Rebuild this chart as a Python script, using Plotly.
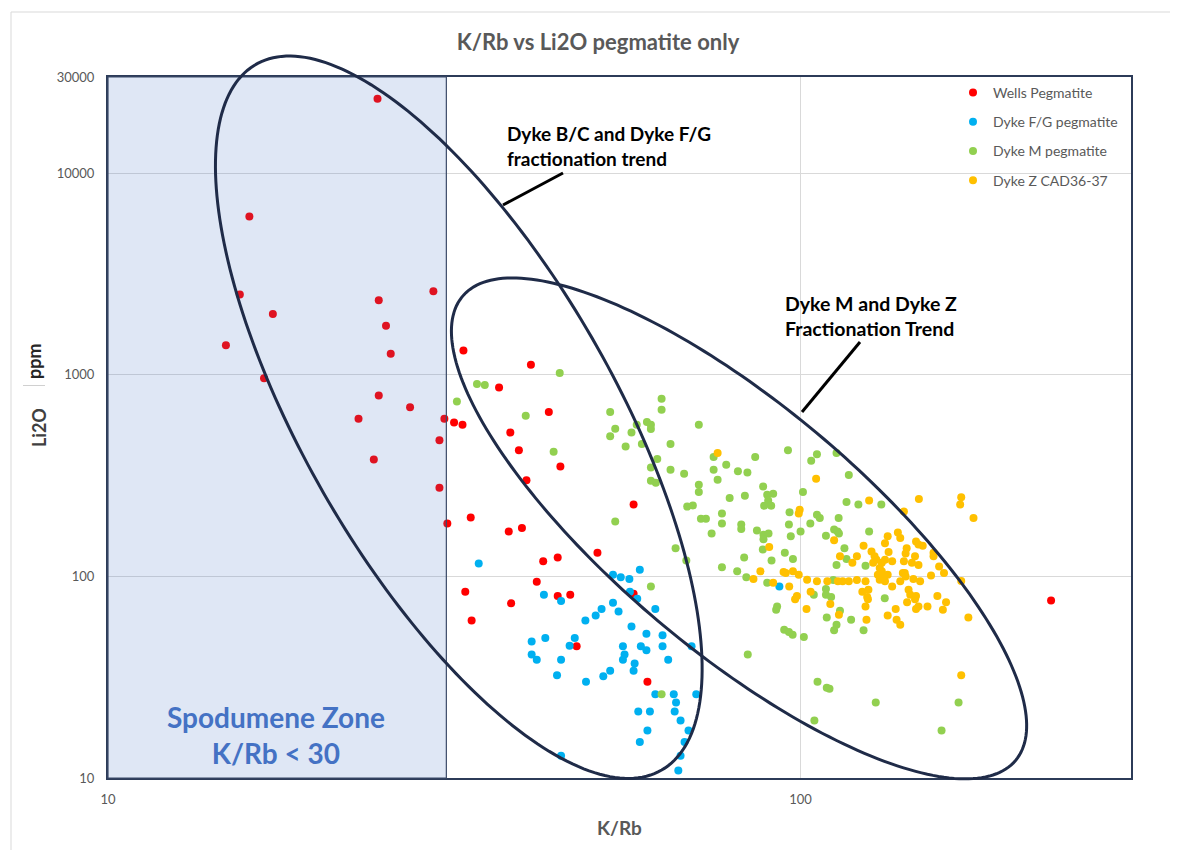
import numpy as np
import plotly.graph_objects as go

# ---------------- data (K/Rb vs Li2O ppm) ----------------
wells_krb = [24.5, 16.0, 15.5, 17.3, 14.8, 16.8, 24.6, 29.5, 25.2, 25.6, 24.6, 27.3, 23.0, 30.6, 31.6,
             32.5, 30.1, 24.2, 30.1, 30.9, 33.4, 37.9, 39.6, 43.3, 38.1, 39.2, 45.0, 40.2, 36.7, 32.6,
             40.8, 50.9, 42.5, 44.6, 41.6, 32.8, 38.2, 33.5, 44.6, 46.5, 47.5, 57.4, 60.1, 57.4, 230]
wells_li2o = [23400, 6100, 2500, 2000, 1400, 960, 2340, 2600, 1750, 1270, 790, 690, 605, 605, 580,
              565, 473, 380, 275, 183, 196, 167, 174, 654, 518, 422, 351, 300, 866, 1320,
              1120, 131, 119, 124, 94, 84, 73.5, 60.5, 80, 81, 45, 82, 30, 227, 76]

fg_krb = [34.3, 42.6, 45.1, 48.9, 40.9, 42.8, 47.2, 46.4, 40.9, 41.6, 45.1, 44.5, 49.0, 45.1, 58.6,
          53.6, 55.0, 56.6, 56.7, 58.1, 53.6, 54.6, 51.6, 50.6, 61.7, 57.0, 59.9, 63.2, 55.4, 58.8,
          59.9, 63.2, 55.7, 55.4, 57.6, 57.4, 64.4, 69.6, 53.1, 51.9, 61.7, 65.6, 70.7, 66.1, 58.3,
          60.6, 65.8, 67.1, 60.1, 68.9, 58.6, 68.0, 67.1, 66.6, 93.2]
fg_li2o = [116, 81, 75.5, 60.5, 47.5, 49.5, 49.5, 45.3, 41, 38.6, 38.6, 32.3, 30, 12.9, 108,
           102, 99, 97, 84, 77.5, 74, 67, 69, 64, 69, 56.5, 52, 51, 45, 45,
           43, 45, 41, 38.6, 37, 34, 38.6, 45, 34, 32, 26, 26, 26, 23.7, 21.4,
           21.4, 21.4, 19.3, 17.2, 17.2, 15.1, 15.1, 12.9, 10.9, 89]

m_krb = [34.1, 35.0, 31.9, 44.9, 40.1, 44.0, 63.0, 63.0, 53.1, 54.0, 53.1, 57.0, 58.0, 60.0, 60.8,
         60.8, 55.9, 59.0, 64.9, 71.3, 62.1, 60.8, 64.9, 67.9, 60.8, 61.8, 71.3, 71.3, 68.6, 69.9,
         74.9, 78.1, 74.9, 75.9, 81.2, 83.8, 86.0, 88.3, 79.0, 83.1, 89.5, 91.3, 89.8, 88.6, 90.7,
         95.9, 60.8, 54.0, 63.0, 66.0, 68.4, 71.8, 73.0, 77.0, 77.0, 74.4, 82.1, 82.1, 86.5, 88.4,
         89.9, 88.4, 96.2, 88.2, 82.9, 90.8, 94.9, 77.0, 81.0, 89.5, 83.5, 92.2, 92.5, 94.7, 96.2,
         97.4, 105.6, 103.6, 112.7, 117.4, 100.8, 116.5, 121.2, 130.8, 105.6, 106.6, 113.5, 103.3, 100.0, 108.8,
         111.8, 113.1, 113.6, 125.6, 115.7, 116.5, 112.7, 97.5, 124.1, 111.5, 108.8, 108.8, 110.7, 104.5, 132.3,
         114.0, 109.1, 118.3, 112.7, 111.8, 123.3, 101.1, 83.9, 105.8, 109.1, 110.1, 128.4, 104.7, 159.8, 169.1,
         96.8, 96.4]
m_li2o = [900, 890, 738, 1020, 627, 415, 760, 670, 654, 540, 495, 518, 565, 583, 565,
          538, 441, 454, 454, 565, 382, 347, 338, 323, 298, 291, 285, 262, 222, 225,
          391, 358, 338, 302, 332, 328, 391, 279, 245, 251, 254, 257, 238, 224, 224,
          422, 89, 187, 26, 138, 120, 193, 193, 205, 183, 163, 181, 172, 169, 161,
          163, 153, 181, 136, 124, 120, 131, 111, 106, 93, 99, 68.4, 71, 54.4, 53,
          51.4, 403, 375, 409, 318, 262, 234, 227, 227, 202, 195, 195, 183, 167, 159,
          171, 167, 163, 167, 138, 122, 114, 122, 113, 96, 86.6, 81.2, 79, 81, 78,
          67.6, 62.6, 61, 57.6, 54, 54, 50, 41, 30, 28, 27.7, 23.7, 19.3, 17.2, 23.7,
          158, 208]

z_krb = [75.9, 105.3, 125.6, 148.2, 170.6, 170.0, 141.0, 177.7, 99.4, 99.7, 133.6, 132.4, 138.2, 139.3, 111.8,
         123.3, 126.6, 120.6, 114.0, 118.8, 128.7, 131.0, 132.4, 135.6, 134.0, 142.3, 141.8, 146.8, 148.0, 150.1,
         146.3, 144.8, 148.0, 141.0, 155.6, 155.6, 158.5, 161.1, 154.3, 170.6, 97.5, 99.4, 102.2, 105.6, 103.4,
         109.3, 113.2, 115.0, 117.4, 120.6, 124.1, 125.3, 122.8, 124.8, 125.1, 124.1, 131.0, 131.9, 130.1, 133.6,
         132.4, 135.6, 140.5, 141.4, 139.3, 141.8, 145.5, 148.8, 143.2, 144.0, 146.8, 146.3, 142.5, 148.0, 157.6,
         162.2, 160.5, 152.5, 146.8, 137.2, 133.6, 137.6, 139.3, 124.5, 113.6, 110.4, 102.0, 174.7, 127.9, 130.1,
         129.3, 127.3, 170.6, 90.1, 87.5, 85.5, 91.3, 95.2, 96.3, 94.5, 98.8, 98.2]
z_li2o = [409, 305, 238, 242, 247, 227, 210, 195, 205, 214, 158, 146, 165, 155, 151,
          142, 133, 126, 126, 117, 121, 117, 121, 119, 132, 138, 130, 149, 144, 142,
          126, 117, 114, 119, 131, 126, 112, 104, 101, 95, 106, 102, 96.3, 94.5, 84,
          94.5, 94.5, 94.5, 94.5, 96, 94.5, 85.8, 84, 79, 77, 71, 106, 100, 96.3, 102,
          94.5, 89, 104, 104, 94.5, 100, 97, 94.5, 85.8, 81.2, 80, 77, 74.5, 71, 80,
          74.5, 68.4, 71, 69, 69, 64, 61, 57.6, 61, 64.6, 73, 69, 62.6, 126, 110,
          102, 117, 32.3, 140, 106, 97, 93, 104, 89, 105, 80, 77]

series_names = ["Wells Pegmatite", "Dyke F/G pegmatite", "Dyke M pegmatite", "Dyke Z CAD36-37"]
series_colors = ["#ff0000", "#00b0f0", "#92d050", "#ffc000"]

x_tickvals = [10, 100]
y_tickvals = [10, 100, 1000, 10000, 30000]
X_MIN, X_MAX = 10, 300
Y_MIN, Y_MAX = 10, 30000
SPOD_EDGE = 30.8  # drawn edge of the "K/Rb < 30" zone

# ---------------- layout geometry ----------------
OFF = 8                      # page body margin of the html page
W, H = 1178 - OFF, 850 - OFF
ML, MR, MT, MB = 108 - OFF, 47, 77 - OFF, 72
PW, PH = W - ML - MR, H - MT - MB


def px2x(px):
    return (px - OFF - ML) / PW


def py2y(py):
    return (OFF + H - MB - py) / PH


def xpaper(v):
    return (np.log10(v) - np.log10(X_MIN)) / (np.log10(X_MAX) - np.log10(X_MIN))


def ypaper(v):
    return (np.log10(v) - np.log10(Y_MIN)) / (np.log10(Y_MAX) - np.log10(Y_MIN))


def ellipse_path(cx_val, cy_val, a_px, b_px, ang_deg, n=240):
    t = np.linspace(0, 2 * np.pi, n)
    th = np.radians(ang_deg)
    dx = a_px * np.cos(th) * np.cos(t) - b_px * np.sin(th) * np.sin(t)
    dy = a_px * np.sin(th) * np.cos(t) + b_px * np.cos(th) * np.sin(t)
    xs = xpaper(cx_val) + dx / PW
    ys = ypaper(cy_val) - dy / PH
    pts = [f"{x:.5f},{y:.5f}" for x, y in zip(xs, ys)]
    return "M " + " L ".join(pts) + " Z"


fig = go.Figure()
for name, col, xs, ys in zip(series_names, series_colors,
                             [wells_krb, fg_krb, m_krb, z_krb],
                             [wells_li2o, fg_li2o, m_li2o, z_li2o]):
    fig.add_trace(go.Scatter(x=xs, y=ys, mode="markers", name=name, legendgroup=name,
                             marker=dict(color=col, size=8, line=dict(width=0))))

ELL_COL = "#1f2b48"
shapes = [
    # outer chart border (light grey)
    dict(type="rect", xref="paper", yref="paper", x0=px2x(11), x1=px2x(1195), y0=py2y(12), y1=py2y(870),
         line=dict(color="#d9d9d9", width=1), fillcolor="rgba(0,0,0,0)", layer="below"),
    # spodumene zone
    dict(type="rect", xref="paper", yref="paper", x0=0, x1=xpaper(SPOD_EDGE), y0=0, y1=1,
         line=dict(color="#3b4a68", width=1.2), fillcolor="rgba(68,114,196,0.17)", layer="above"),
    # fractionation ellipses
    dict(type="path", xref="paper", yref="paper", path=ellipse_path(32.1, 616, 407, 155, 60.1),
         line=dict(color=ELL_COL, width=3), layer="above"),
    dict(type="path", xref="paper", yref="paper", path=ellipse_path(81.5, 173, 361, 123, 40.0),
         line=dict(color=ELL_COL, width=3), layer="above"),
    # callout leaders
    dict(type="line", xref="paper", yref="paper", x0=px2x(503), y0=py2y(205), x1=px2x(563), y1=py2y(173),
         line=dict(color="black", width=3), layer="above"),
    dict(type="line", xref="paper", yref="paper", x0=px2x(802), y0=py2y(412), x1=px2x(860), y1=py2y(342),
         line=dict(color="black", width=3), layer="above"),
    # small rule under "ppm"
    dict(type="line", xref="paper", yref="paper", x0=px2x(23), y0=py2y(385.5), x1=px2x(45), y1=py2y(385.5),
         line=dict(color="#d0d0d0", width=1), layer="above"),
]

ann_common = dict(xref="paper", yref="paper", showarrow=False)
annotations = [
    dict(text="<b>Dyke B/C and Dyke F/G<br>fractionation trend</b>", x=px2x(505), y=py2y(146),
         xanchor="left", yanchor="middle", align="left", font=dict(size=19, color="black"), **ann_common),
    dict(text="<b>Dyke M and Dyke Z<br>Fractionation Trend</b>", x=px2x(783), y=py2y(316),
         xanchor="left", yanchor="middle", align="left", font=dict(size=19.5, color="black"), **ann_common),
    dict(text="<b>Spodumene Zone<br>K/Rb &lt; 30</b>", x=px2x(276), y=py2y(735),
         xanchor="center", yanchor="middle", align="center", font=dict(size=28, color="#4472c4"), **ann_common),
    dict(text="<b>K/Rb</b>", x=px2x(619), y=py2y(827), xanchor="center", yanchor="middle",
         font=dict(size=19, color="#595959"), **ann_common),
    dict(text="<b>Li2O</b>", x=px2x(39), y=py2y(428), xanchor="center", yanchor="middle",
         textangle=-90, font=dict(size=18, color="#404040"), **ann_common),
    dict(text="<b>ppm</b>", x=px2x(34), y=py2y(361), xanchor="center", yanchor="middle",
         textangle=-90, font=dict(size=18, color="#262626"), **ann_common),
]

fig.update_layout(
    width=W, height=H,
    margin=dict(l=ML, r=MR, t=MT, b=MB),
    paper_bgcolor="white", plot_bgcolor="white",
    font=dict(family="Lato, 'Open Sans', sans-serif", color="#595959"),
    title=dict(text="<b>K/Rb vs Li2O pegmatite only</b>", x=(598 - OFF) / W, xanchor="center",
               y=1 - (42 - OFF) / H, yanchor="middle", font=dict(size=22, color="#595959")),
    shapes=shapes,
    annotations=annotations,
    showlegend=True,
    legend=dict(x=px2x(953), y=py2y(77), xanchor="left", yanchor="top",
                font=dict(size=14, color="#595959"), tracegroupgap=8,
                bgcolor="rgba(0,0,0,0)", borderwidth=0),
)

axis_common = dict(type="log", showgrid=True, gridcolor="#d9d9d9", gridwidth=1,
                   showline=True, mirror=True, linecolor="#2c3b58", linewidth=2,
                   ticks="", zeroline=False, tickfont=dict(size=13, color="#595959"))
fig.update_xaxes(range=[np.log10(X_MIN), np.log10(X_MAX)], tickvals=x_tickvals,
                 ticktext=[str(v) for v in x_tickvals], ticklabelstandoff=8, **axis_common)
fig.update_yaxes(range=[np.log10(Y_MIN), np.log10(Y_MAX)], tickvals=y_tickvals,
                 ticktext=[str(v) for v in y_tickvals], ticklabelstandoff=9, **axis_common)

fig.write_html("out.html")
